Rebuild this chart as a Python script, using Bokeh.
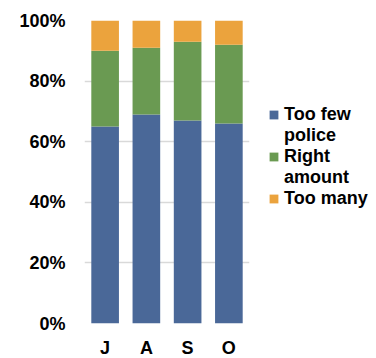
from bokeh.plotting import figure
from bokeh.models import (ColumnDataSource, FactorRange, Range1d, FixedTicker,
                          PrintfTickFormatter, Legend, LegendItem)
from bokeh.embed import file_html
from bokeh.resources import INLINE

# Monthly survey shares (percent of respondents)
months = ["J", "A", "S", "O"]
too_few = [65, 69, 67, 66]
right_amount = [25, 22, 26, 26]
too_many = [10, 9, 7, 8]

series = ["too_few", "right_amount", "too_many"]
# legend labels, wrapped: (first line, second line)
labels = [("Too few", "police"), ("Right", "amount"), ("Too many", None)]
colors = ["#4A6898", "#6A9A52", "#EBA33D"]

source = ColumnDataSource(dict(month=months, too_few=too_few,
                               right_amount=right_amount, too_many=too_many))

FONT = "Liberation Sans"

p = figure(x_range=FactorRange(*months), y_range=Range1d(0, 100),
           frame_width=165, frame_height=303,
           min_border_left=84, min_border_right=0,
           min_border_top=20, min_border_bottom=35,
           output_backend="svg", toolbar_location=None,
           background_fill_color="white", border_fill_color="white")

renderers = p.vbar_stack(series, x="month", width=0.67, color=colors,
                         line_color=None, source=source)

p.outline_line_color = None
p.xgrid.grid_line_color = None
p.ygrid.grid_line_color = "#D9D9D9"
p.ygrid.grid_line_width = 1.6

p.yaxis.ticker = FixedTicker(ticks=[0, 20, 40, 60, 80, 100])
p.yaxis.formatter = PrintfTickFormatter(format="%d%%")

for ax in (p.xaxis, p.yaxis):
    ax.axis_line_color = None
    ax.major_tick_line_color = None
    ax.minor_tick_line_color = None
    ax.major_tick_out = 0
    ax.major_tick_in = 0
    ax.major_label_text_font = FONT
    ax.major_label_text_font_style = "bold"
    ax.major_label_text_font_size = "18px"
    ax.major_label_text_color = "black"

p.yaxis.major_label_standoff = 19
p.xaxis.major_label_standoff = 14

# one legend row per text line; the wrapped second lines carry no swatch
items = []
for (first, second), r in zip(labels, renderers):
    items.append(LegendItem(label=first, renderers=[r]))
    if second:
        items.append(LegendItem(label=second, renderers=[]))

legend = Legend(
    items=items,
    location=(19, 114),
    padding=0, margin=0, spacing=0,
    glyph_width=11, glyph_height=11, label_standoff=5, label_height=21,
    label_text_font=FONT, label_text_font_style="bold",
    label_text_font_size="18px", label_text_color="black",
    label_text_line_height=1.0,
    border_line_color=None, background_fill_alpha=0,
)
p.add_layout(legend, "right")
p.min_border_right = 127

with open("out.html", "w") as f:
    f.write(file_html(p, INLINE))
